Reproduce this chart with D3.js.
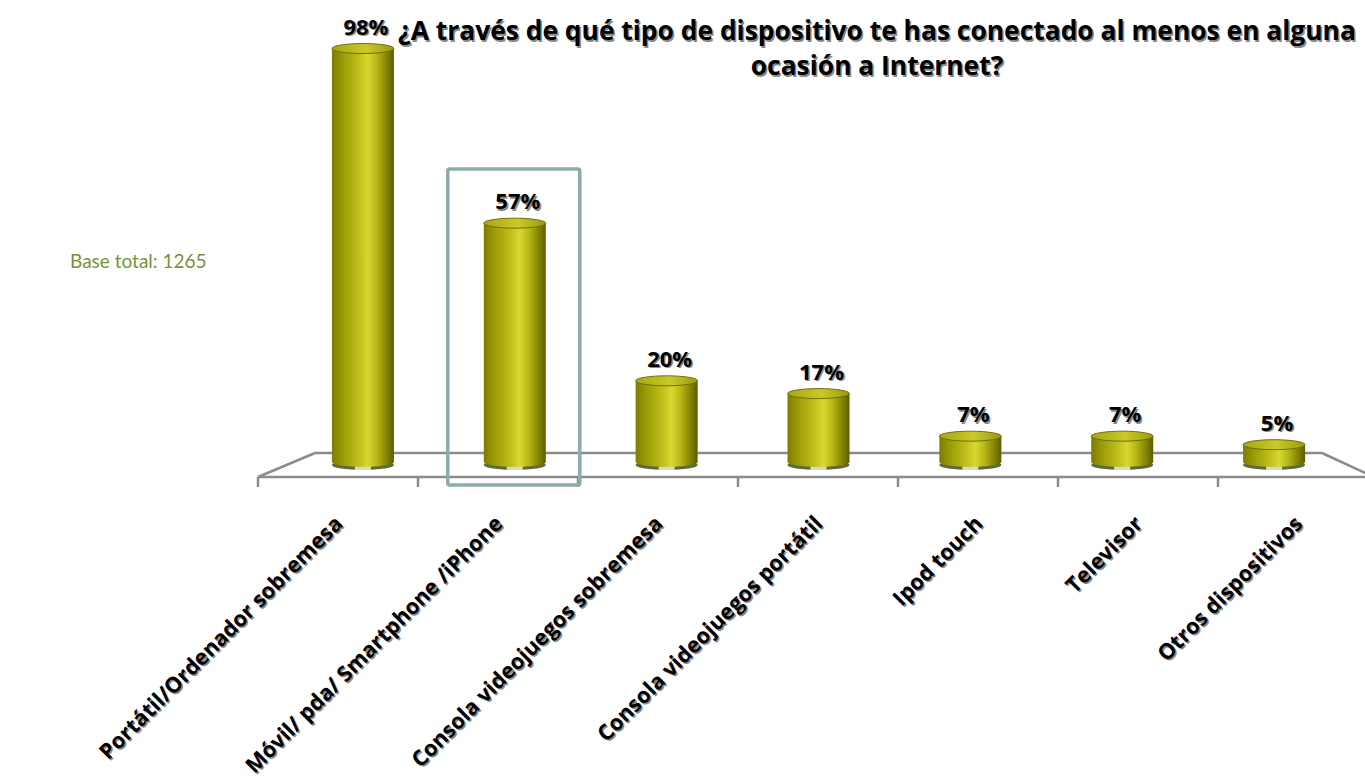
<!DOCTYPE html>
<html>
<head>
<meta charset="utf-8">
<script src="https://cdn.jsdelivr.net/npm/d3@7"></script>
<style>
  html, body { margin: 0; padding: 0; background: #ffffff; }
  svg { display: block; }
</style>
</head>
<body>
<svg id="chart" width="1365" height="780"></svg>
<script>
// Devices used at least once to connect to the Internet (% of respondents)
const categories = [
  "Portátil/Ordenador sobremesa",
  "Móvil/ pda/ Smartphone /iPhone",
  "Consola videojuegos sobremesa",
  "Consola videojuegos portátil",
  "Ipod touch",
  "Televisor",
  "Otros dispositivos"
];
const values = [98, 57, 20, 17, 7, 7, 5];
const valueLabels = ["98%", "57%", "20%", "17%", "7%", "7%", "5%"];
const highlighted = ["Móvil/ pda/ Smartphone /iPhone"];
const titleLines = [
  "¿A través de qué tipo de dispositivo te has conectado al menos en alguna",
  "ocasión a Internet?"
];
const baseNote = "Base total: 1265";

const svg = d3.select("#chart");

// Floor of the 3-D plot: front edge, back edge and bar plane in between
const xFront = d3.scaleBand().domain(categories).range([258, 1378]);
const xBack  = d3.scaleBand().domain(categories).range([315, 1322]);
const xBar   = d3.scaleBand().domain(categories).range([287, 1350]);
const y = d3.scaleLinear().domain([0, 100]).range([466, 40]);

const frontY = 477, backY = 453, barBaseY = 462;
const barW = 62, rx = barW / 2, ry = 5;

const defs = svg.append("defs");
const grad = defs.append("linearGradient")
  .attr("id", "cyl").attr("x1", "0%").attr("x2", "100%").attr("y1", "0%").attr("y2", "0%");
[
  [0, "#7d7d00"], [0.18, "#9c9c08"], [0.42, "#bdbd1a"], [0.58, "#d8d832"],
  [0.72, "#b8b816"], [0.9, "#7f7f02"], [1, "#5c5c00"]
].forEach(([o, c]) => grad.append("stop").attr("offset", o).attr("stop-color", c));

const topGrad = defs.append("linearGradient")
  .attr("id", "cylTop").attr("x1", "0%").attr("x2", "100%");
[[0, "#a6a612"], [0.55, "#c9c928"], [1, "#9a9a0c"]]
  .forEach(([o, c]) => topGrad.append("stop").attr("offset", o).attr("stop-color", c));

// Floor lines
const floor = svg.append("g").attr("fill", "none").attr("stroke", "#8c8c8c").attr("stroke-width", 2.5);
const fx0 = xFront.range()[0], fx1 = xFront.range()[1];
const bx0 = xBack.range()[0], bx1 = xBack.range()[1];
floor.append("path").attr("d", `M${fx0},${frontY}L${bx0},${backY}L${bx1},${backY}L${fx1},${frontY + 2}`)
  .attr("stroke-linejoin", "round");
floor.append("path").attr("d", `M${fx0},${frontY}L${fx1},${frontY}`);
// tick marks on the front edge
floor.selectAll("line.tick")
  .data(categories)
  .join("line")
  .attr("class", "tick")
  .attr("x1", d => xFront(d)).attr("x2", d => xFront(d))
  .attr("y1", frontY).attr("y2", frontY + 10);

// Cylinders
const bars = svg.append("g").selectAll("g.bar")
  .data(categories.map((c, i) => ({ c, v: values[i], label: valueLabels[i] })))
  .join("g").attr("class", "bar")
  .attr("transform", d => `translate(${xBar(d.c) + xBar.bandwidth() / 2},0)`);

// reflection on the floor under each cylinder
bars.append("ellipse")
  .attr("cx", 0).attr("cy", barBaseY + 3).attr("rx", rx).attr("ry", ry)
  .attr("fill", "#5f6a3a");
bars.append("rect")
  .attr("x", -8).attr("y", barBaseY + 3).attr("width", 16).attr("height", 5)
  .attr("fill", "#d6dcc0");
bars.append("path")
  .attr("d", d => {
    const t = y(d.v);
    return `M${-rx},${t}L${-rx},${barBaseY}A${rx},${ry} 0 0 0 ${rx},${barBaseY}L${rx},${t}Z`;
  })
  .attr("fill", "url(#cyl)");
bars.append("ellipse")
  .attr("cx", 0).attr("cy", d => y(d.v)).attr("rx", rx).attr("ry", ry)
  .attr("fill", "url(#cylTop)").attr("stroke", "#6e6e10").attr("stroke-width", 1);

// Value labels with a soft shadow
const labelFont = "'Open Sans', Lato, sans-serif";
function shadowText(sel) {
  sel.clone(true).lower().attr("fill", "#8a8a8a").attr("transform", function () {
    const t = d3.select(this).attr("transform") || "";
    return "translate(1.5,1.5) " + t;
  });
}
const vl = bars.append("text")
  .attr("x", 3).attr("y", d => y(d.v) - 14)
  .attr("text-anchor", "middle")
  .attr("font-family", labelFont).attr("font-weight", 700).attr("font-size", 22)
  .attr("fill", "#000")
  .text(d => d.label);
vl.each(function () { shadowText(d3.select(this)); });

// Highlight frame around the mobile bar
highlighted.forEach(h => {
  const cx = xBar(h) + xBar.bandwidth() / 2;
  svg.append("rect")
    .attr("x", cx - 67).attr("y", 169).attr("width", 132).attr("height", 316)
    .attr("rx", 2).attr("fill", "none").attr("stroke", "#8eaaad").attr("stroke-width", 3.5);
});

// Category labels, rotated
const cat = svg.append("g").selectAll("text")
  .data(categories)
  .join("text")
  .attr("transform", d => `translate(${xFront(d) + xFront.bandwidth() / 2 + 6},525) rotate(-45)`)
  .attr("text-anchor", "end")
  .attr("font-family", labelFont).attr("font-weight", 700).attr("font-size", 21.7)
  .attr("fill", "#000")
  .text(d => d);
cat.each(function () { shadowText(d3.select(this)); });

// Title
const title = svg.append("g");
titleLines.forEach((t, i) => {
  const tx = title.append("text")
    .attr("x", 877).attr("y", 40 + i * 35)
    .attr("text-anchor", "middle")
    .attr("font-family", labelFont).attr("font-weight", 700).attr("font-size", 26.4)
    .attr("fill", "#000")
    .text(t);
  shadowText(tx);
});

// Sample size note
svg.append("text")
  .attr("x", 70).attr("y", 268)
  .attr("font-family", "Lato, 'Open Sans', sans-serif").attr("font-size", 19)
  .attr("fill", "#76923c")
  .text(baseNote);
</script>
</body>
</html>
